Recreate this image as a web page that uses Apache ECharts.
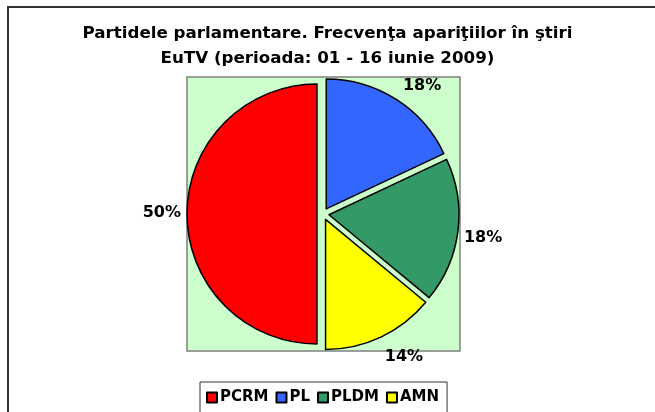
<!DOCTYPE html>
<html>
<head>
<meta charset="utf-8">
<script src="https://cdn.jsdelivr.net/npm/echarts@6/dist/echarts.min.js"></script>
<style>
  html, body { margin: 0; padding: 0; background: #fff; }
  #chart { width: 655px; height: 412px; }
</style>
</head>
<body>
<div id="chart"></div>
<script>
// partide, in ordinea din legenda
var partide = ['PCRM', 'PL', 'PLDM', 'AMN'];
// procente (frecventa aparitiilor)
var procente = [50, 18, 18, 14];
var culori = ['#FF0000', '#3366FF', '#339966', '#FFFF00'];
// ordinea de desenare in sens orar de la ora 12
var ordine = [1, 2, 3, 0];
// mici deplasari ale etichetelor (ca in Excel)
var deplasari = { PCRM: [1, -1], PL: [1, -12], PLDM: [-1, 7], AMN: [-2, 18] };

var myChart = echarts.init(document.getElementById('chart'));

var date = ordine.map(function (i) {
    return {
        name: partide[i],
        value: procente[i],
        selected: true,
        itemStyle: { color: culori[i] }
    };
});

var font = 'DejaVu Sans';

myChart.setOption({
    backgroundColor: '#fff',
    animation: false,
    title: {
        text: 'Partidele parlamentare. Frecvenţa apariţiilor în ştiri\nEuTV (perioada: 01 - 16 iunie 2009)',
        left: 'center',
        top: 16,
        padding: [5, 15, 5, 5],
        textStyle: {
            fontFamily: font,
            fontSize: 16.7,
            fontWeight: 'bold',
            color: '#000',
            lineHeight: 25
        }
    },
    graphic: [
        {   // chenarul graficului (continua in afara imaginii)
            type: 'rect',
            shape: { x: 8, y: 7, width: 700, height: 500 },
            style: { fill: 'none', stroke: '#333', lineWidth: 2 },
            silent: true
        },
        {   // zona de desen
            type: 'rect',
            shape: { x: 187, y: 77, width: 273, height: 274 },
            style: { fill: '#CCFFCC', stroke: '#808080', lineWidth: 1.5 },
            silent: true,
            z: -1
        }
    ],
    legend: {
        data: partide,
        left: 200,
        top: 382,
        padding: [8, 8, 30, 6],
        itemWidth: 10,
        itemHeight: 10,
        itemGap: 7,
        icon: 'rect',
        borderColor: '#333',
        borderWidth: 1,
        textStyle: {
            fontFamily: font,
            fontSize: 15,
            fontWeight: 'bold',
            color: '#000',
            padding: [0, 0, 0, -2]
        }
    },
    series: [
        {
            type: 'pie',
            center: [323, 214],
            radius: 130,
            startAngle: 90,
            clockwise: true,
            selectedMode: 'multiple',
            selectedOffset: 6,
            avoidLabelOverlap: false,
            itemStyle: { borderColor: '#000', borderWidth: 1.5 },
            label: {
                show: true,
                position: 'outside',
                formatter: '{c}%',
                fontFamily: font,
                fontSize: 16,
                fontWeight: 'bold',
                color: '#000'
            },
            labelLine: { show: false, length: 2, length2: 0 },
            labelLayout: function (params) {
                var d = deplasari[date[params.dataIndex].name];
                return { dx: d[0], dy: d[1] };
            },
            emphasis: { disabled: true },
            select: { itemStyle: { borderColor: '#000', borderWidth: 1.5 } },
            data: date
        }
    ]
});
</script>
</body>
</html>
